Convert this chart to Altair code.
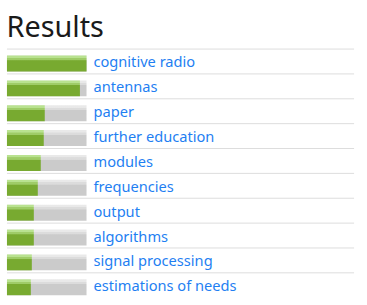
import altair as alt
import pandas as pd

terms = ["cognitive radio", "antennas", "paper", "further education", "modules",
         "frequencies", "output", "algorithms", "signal processing", "estimations of needs"]
scores = [1.0, 0.917, 0.475, 0.4625, 0.425, 0.3875, 0.3375, 0.3375, 0.3125, 0.30]

df = pd.DataFrame({"term": terms, "score": scores, "full": [1.0] * len(terms)})

W, H = 349, 250
yscale = alt.Scale(domain=terms, range=[7, 248], paddingInner=0.36, paddingOuter=0)
xscale = alt.Scale(domain=[0, 1], range=[0, 80])

green = alt.LinearGradient(
    gradient="linear", x1=0, y1=0, x2=0, y2=1,
    stops=[
        alt.GradientStop(offset=0, color="#b9e290"),
        alt.GradientStop(offset=0.14, color="#b9e290"),
        alt.GradientStop(offset=0.16, color="#9fcc68"),
        alt.GradientStop(offset=0.28, color="#9fcc68"),
        alt.GradientStop(offset=0.32, color="#78aa30"),
        alt.GradientStop(offset=1, color="#78aa30"),
    ],
)
grey = alt.LinearGradient(
    gradient="linear", x1=0, y1=0, x2=0, y2=1,
    stops=[
        alt.GradientStop(offset=0, color="#e9e9e9"),
        alt.GradientStop(offset=0.14, color="#e9e9e9"),
        alt.GradientStop(offset=0.16, color="#dcdcdc"),
        alt.GradientStop(offset=0.28, color="#dcdcdc"),
        alt.GradientStop(offset=0.32, color="#cbcbcb"),
        alt.GradientStop(offset=1, color="#cbcbcb"),
    ],
)

base = alt.Chart(df)

rules = base.mark_rule(color="#dddddd", strokeWidth=1, yOffset=-6.5).encode(
    y=alt.Y("term:N", scale=yscale, bandPosition=0, axis=None),
    x=alt.value(0), x2=alt.value(W),
)

bg = base.mark_bar(color=grey, cornerRadius=0).encode(
    y=alt.Y("term:N", scale=yscale, axis=None),
    x=alt.X("full:Q", scale=xscale, axis=None),
)

fg = base.mark_bar(color=green, cornerRadius=0).encode(
    y=alt.Y("term:N", scale=yscale, axis=None),
    x=alt.X("score:Q", scale=xscale, axis=None),
)

labels = base.mark_text(align="left", baseline="middle", font="Noto Sans",
                        fontSize=14.7, color="#1f7ff2", dy=0).encode(
    y=alt.Y("term:N", scale=yscale, axis=None),
    x=alt.value(87),
    text="term:N",
)

chart = alt.layer(rules, bg, fg, labels).properties(
    width=W, height=H,
    title=alt.TitleParams("Results", anchor="start", font="Noto Sans", fontSize=29,
                          fontWeight="normal", color="#1a1a1a", offset=6),
    padding={"left": 6, "top": 13, "right": 12, "bottom": 8},
).configure_view(stroke=None)

chart.save("out.html", embed_options={"renderer": "svg", "actions": False})
